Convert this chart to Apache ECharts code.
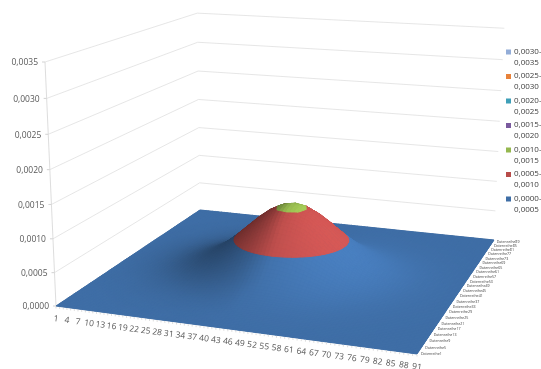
<!DOCTYPE html>
<html>
<head>
<meta charset="utf-8">
<title>Surface</title>
<style>html,body{margin:0;padding:0;background:#fff}#container{width:541px;height:369px;filter:blur(0.45px)}</style>
<script src="https://cdn.jsdelivr.net/npm/echarts@6/dist/echarts.min.js"></script>
</head>
<body>
<div id="container"></div>
<script>
// x axis ticks, one label every 3 points
var xLabels = ['1','4','7','10','13','16','19','22','25','28','31','34','37','40','43','46','49','52','55','58','61','64','67','70','73','76','79','82','85','88','91'];
// depth axis, one label every 4 series
var depthLabels = ['Datenreihe1','Datenreihe5','Datenreihe9','Datenreihe13','Datenreihe17','Datenreihe21','Datenreihe25','Datenreihe29','Datenreihe33','Datenreihe37','Datenreihe41','Datenreihe45','Datenreihe49','Datenreihe53','Datenreihe57','Datenreihe61','Datenreihe65','Datenreihe69','Datenreihe73','Datenreihe77','Datenreihe81','Datenreihe85','Datenreihe89'];
var depthNumbers = [1,5,9,13,17,21,25,29,33,37,41,45,49,53,57,61,65,69,73,77,81,85,89];
var zTicks = [0,0.0005,0.001,0.0015,0.002,0.0025,0.003,0.0035];
var zTickLabels = ['0,0000','0,0005','0,0010','0,0015','0,0020','0,0025','0,0030','0,0035'];
var bandLow = [0,0.0005,0.001,0.0015,0.002,0.0025,0.003];
var bandHigh = [0.0005,0.001,0.0015,0.002,0.0025,0.003,0.0035];
var bandNames = ['0,0000-\n0,0005','0,0005-\n0,0010','0,0010-\n0,0015','0,0015-\n0,0020','0,0020-\n0,0025','0,0025-\n0,0030','0,0030-\n0,0035'];
var bandColors = ['#3f6ea6','#b84c4a','#95b84f','#7a5a9e','#3f9fb8','#e8823a','#93add8'];

// surface heights, in 1e-6, every 3rd point from the
// middle of the dome (row/col 0) out to the edge; the dome is round so one quarter is enough
var zQuarter = [
  [1060,1029,940,809,655,500,359,243,155,93,52,28,14,7,3,1],
  [1029,998,912,785,636,485,348,236,150,90,51,27,14,6,3,1],
  [940,912,833,717,581,443,319,215,137,82,46,25,12,6,3,1],
  [809,785,717,617,500,381,274,185,118,71,40,21,11,5,2,1],
  [655,636,581,500,405,309,222,150,96,57,32,17,9,4,2,1],
  [500,485,443,381,309,236,169,115,73,44,25,13,7,3,1,1],
  [359,348,319,274,222,169,122,82,52,31,18,9,5,2,1,0],
  [243,236,215,185,150,115,82,56,35,21,12,6,3,2,1,0],
  [155,150,137,118,96,73,52,35,23,14,8,4,2,1,0,0],
  [93,90,82,71,57,44,31,21,14,8,5,2,1,1,0,0],
  [52,51,46,40,32,25,18,12,8,5,3,1,1,0,0,0],
  [28,27,25,21,17,13,9,6,4,2,1,1,0,0,0,0],
  [14,14,12,11,9,7,5,3,2,1,1,0,0,0,0,0],
  [7,6,6,5,4,3,2,2,1,1,0,0,0,0,0,0],
  [3,3,3,2,2,1,1,1,0,0,0,0,0,0,0,0],
  [1,1,1,1,1,1,0,0,0,0,0,0,0,0,0,0]
];

var FONT = '"Open Sans", sans-serif';
var N = 31, SUB = 3;   // nodes per side, subdivisions per cell when drawing
var Z_MAX = 0.0035;

var zGrid = [];
for (var r = 0; r < N; r++) {
  zGrid[r] = [];
  for (var c = 0; c < N; c++) zGrid[r][c] = zQuarter[Math.abs(r - 15)][Math.abs(c - 15)] * 1e-6;
}

// camera of the picture: u along the front edge, v into the depth, w up (all 0..1)
function project(u, v, w) {
  var d = 1 - 0.0916 * u + 0.2519 * v - 0.05 * w;
  return [(322.8 * u + 194.38 * v - 13.25 * w + 56) / d, (15.57 * u - 43.11 * v - 247.1 * w + 306) / d];
}

// light comes from the right
var LU = 0.99, LV = -0.12;
var shadeGrid = [];
for (r = 0; r < N; r++) {
  shadeGrid[r] = [];
  for (c = 0; c < N; c++) {
    var zu = (zGrid[r][Math.min(c + 1, N - 1)] - zGrid[r][Math.max(c - 1, 0)]) / 6 * 1e6 / 40;
    var zv = (zGrid[Math.min(r + 1, N - 1)][c] - zGrid[Math.max(r - 1, 0)][c]) / 6 * 1e6 / 40;
    var len = Math.sqrt(1 + zu * zu + zv * zv);
    var dot = (-zu * LU - zv * LV) / len;
    var soft = Math.pow(Math.abs(dot), 0.7);
    shadeGrid[r][c] = dot > 0 ? 1 + 0.2 * soft : 1 - 0.48 * soft;
  }
}

function bilinear(grid, x, y) {
  var c0 = Math.min(Math.floor(x), N - 2), r0 = Math.min(Math.floor(y), N - 2);
  var fx = x - c0, fy = y - r0;
  return (grid[r0][c0] * (1 - fx) + grid[r0][c0 + 1] * fx) * (1 - fy) + (grid[r0 + 1][c0] * (1 - fx) + grid[r0 + 1][c0 + 1] * fx) * fy;
}

function shadeColor(hex, b) {
  var out = '#';
  for (var i = 1; i < 7; i += 2) {
    var v = Math.min(255, Math.round(parseInt(hex.substr(i, 2), 16) * b));
    out += (v < 16 ? '0' : '') + v.toString(16);
  }
  return out;
}

// keep the part of a polygon on one side of a height
function clipZ(poly, limit, above) {
  var out = [];
  for (var i = 0; i < poly.length; i++) {
    var a = poly[i], b = poly[(i + 1) % poly.length];
    var ina = above ? a[2] >= limit : a[2] <= limit;
    var inb = above ? b[2] >= limit : b[2] <= limit;
    if (ina) out.push(a);
    if (ina !== inb) {
      var t = (limit - a[2]) / (b[2] - a[2]);
      out.push([a[0] + (b[0] - a[0]) * t, a[1] + (b[1] - a[1]) * t, limit]);
    }
  }
  return out;
}

function bandPolygon(x, y, band) {
  var s = 1 / SUB;
  var poly = [[x, y], [x + s, y], [x + s, y + s], [x, y + s]].map(function (p) {
    return [p[0], p[1], bilinear(zGrid, p[0], p[1])];
  });
  poly = clipZ(poly, bandLow[band], true);
  if (poly.length) poly = clipZ(poly, bandHigh[band], false);
  return poly;
}

// far cells first so nearer ones paint over them
function bandCells(band) {
  var cells = [];
  for (var y = (N - 1) * SUB - 1; y >= 0; y--) {
    for (var x = 0; x < (N - 1) * SUB; x++) {
      if (bandPolygon(x / SUB, y / SUB, band).length > 2) cells.push([x / SUB, y / SUB]);
    }
  }
  return cells;
}

function bandSeries(band) {
  return {
    name: bandNames[band],
    type: 'custom',
    coordinateSystem: 'none',
    silent: true,
    progressive: 0,
    itemStyle: { color: bandColors[band] },
    data: bandCells(band),
    renderItem: function (params, api) {
      var x = api.value(0), y = api.value(1);
      var pts = bandPolygon(x, y, band).map(function (p) {
        return project(p[0] / (N - 1), p[1] / (N - 1), p[2] / Z_MAX);
      });
      var col = shadeColor(bandColors[band], bilinear(shadeGrid, x + 0.5 / SUB, y + 0.5 / SUB));
      return { type: 'polygon', shape: { points: pts }, style: { fill: col, stroke: col, lineWidth: 1 } };
    }
  };
}

// side and back wall lines, the floor goes under the surface cells
var wallSeries = {
  type: 'custom', coordinateSystem: 'none', silent: true,
  data: zTicks.map(function (t, i) { return [t, i]; }),
  renderItem: function (params, api) {
    var w = api.value(0) / Z_MAX;
    var a = project(0, 0, w), children = [];
    children.push({ type: 'polyline', shape: { points: [a, project(0, 1, w), project(1, 1, w)] }, style: { fill: null, stroke: '#dfdfdf', lineWidth: 0.8 } });
    children.push({ type: 'line', shape: { x1: a[0] - 3, y1: a[1], x2: a[0], y2: a[1] }, style: { stroke: '#c8c8c8', lineWidth: 0.8 } });
    if (params.dataIndex > 0) {
      var b = project(0, 0, api.value(0) / Z_MAX - 1 / 7);
      children.push({ type: 'line', shape: { x1: a[0], y1: a[1], x2: b[0], y2: b[1] }, style: { stroke: '#d4d4d4', lineWidth: 0.8 } });
    } else {
      children.push({ type: 'polygon', shape: { points: [project(0, 0, 0), project(1, 0, 0), project(1, 1, 0), project(0, 1, 0)] }, style: { fill: bandColors[0] } });
    }
    children.push({ type: 'text', style: { x: a[0] - 7, y: a[1] + 1, text: zTickLabels[params.dataIndex], font: '8.5px ' + FONT, fill: '#595959', align: 'right', verticalAlign: 'middle' } });
    return { type: 'group', children: children };
  }
};

// small ticks under the front edge, one per point
var tickPoints = [];
for (var k = 1; k <= 91; k++) tickPoints.push([k]);
var xTickSeries = {
  type: 'custom', coordinateSystem: 'none', silent: true,
  data: tickPoints,
  renderItem: function (params, api) {
    var p = project((api.value(0) - 1) / 90, 0, 0);
    return { type: 'line', shape: { x1: p[0], y1: p[1] + 0.5, x2: p[0], y2: p[1] + 2.5 }, style: { stroke: '#cfcfcf', lineWidth: 0.7 } };
  }
};

var xLabelSeries = {
  type: 'custom', coordinateSystem: 'none', silent: true,
  data: xLabels.map(function (l) { return [Number(l)]; }),
  renderItem: function (params, api) {
    var p = project((api.value(0) - 1) / 90, 0, 0);
    return { type: 'text', x: p[0], y: p[1] + 13, rotation: -0.13, style: { x: 0, y: 0, text: xLabels[params.dataIndex], font: '8.5px ' + FONT, fill: '#595959', align: 'center', verticalAlign: 'middle' } };
  }
};

var depthLabelSeries = {
  type: 'custom', coordinateSystem: 'none', silent: true,
  data: depthNumbers.map(function (n) { return [n]; }),
  renderItem: function (params, api) {
    var p = project(1, (api.value(0) - 1) / 90, 0);
    return { type: 'text', style: { x: p[0] + 4, y: p[1], text: depthLabels[params.dataIndex], font: '3.6px ' + FONT, fill: '#404040', align: 'left', verticalAlign: 'middle' } };
  }
};

var seriesList = [wallSeries];
for (var b = 0; b < bandNames.length; b++) seriesList.push(bandSeries(b));
seriesList.push(xTickSeries, xLabelSeries, depthLabelSeries);

var dom = document.getElementById('container');
var myChart = echarts.init(dom, null, { renderer: 'canvas' });
var option = {
  backgroundColor: '#ffffff',
  animation: false,
  legend: {
    orient: 'vertical',
    left: 506,
    top: 46,
    itemWidth: 5,
    itemHeight: 15,
    itemGap: 2.5,
    padding: 0,
    selectedMode: false,
    icon: 'path://M0,0H5V5H0Z M0,15H0.01V15.01H0Z',
    textStyle: { fontSize: 8, lineHeight: 11, color: '#404040', fontFamily: FONT, padding: [0, 0, 0, -2] },
    data: bandNames.slice().reverse()
  },
  series: seriesList
};
myChart.setOption(option, true);
</script>
</body>
</html>
